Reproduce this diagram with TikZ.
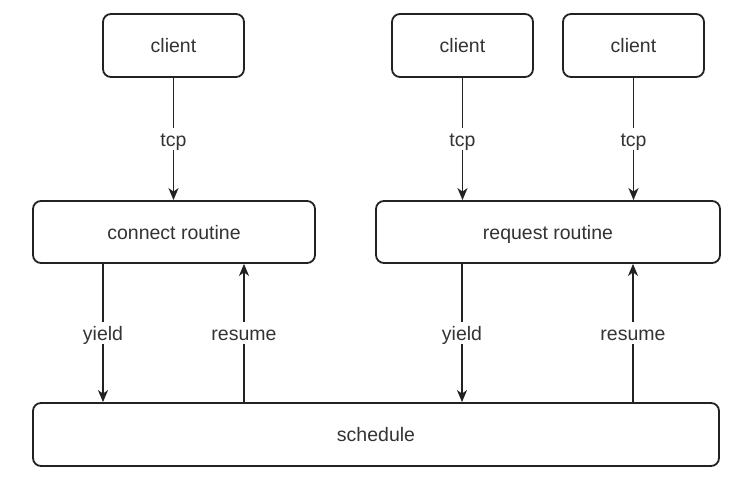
\documentclass[tikz,border=0pt]{standalone}
\usepackage{fontspec}
\setmainfont{Liberation Sans}
\usetikzlibrary{arrows.meta}
\definecolor{linec}{HTML}{222222}
\definecolor{textc}{HTML}{333333}
\tikzset{
  box/.style={draw=linec, line width=1.8pt, rounded corners=8pt, fill=white,
    text=textc, inner sep=0pt, text height=16pt, text depth=2pt,
    font=\fontsize{19.5}{23}\selectfont},
  conn/.style={draw=linec, line width=1.6pt, -{Stealth[length=12pt,width=10pt,inset=3.5pt]}},
  lbl/.style={fill=white, text=textc, inner sep=2pt, text height=16pt, text depth=2pt,
    font=\fontsize{19.5}{23}\selectfont}
}
\begin{document}
\begin{tikzpicture}[x=1pt,y=-1pt]
\useasboundingbox (0,0) rectangle (744,480);
\node[box, minimum width=141pt, minimum height=63pt] (c1) at (173.5,45.5) {client};
\node[box, minimum width=141pt, minimum height=63pt] (c2) at (462.5,45.5) {client};
\node[box, minimum width=141pt, minimum height=63pt] (c3) at (633.5,45.5) {client};
\node[box, minimum width=282pt, minimum height=62pt] (conn) at (174,232) {connect routine};
\node[box, minimum width=344pt, minimum height=62pt] (req) at (548,232) {request routine};
\node[box, minimum width=686pt, minimum height=63pt] (sched) at (376,434.5) {schedule};
\coordinate (yl) at (103,0);
\coordinate (rl) at (244,0);
\coordinate (yr) at (462,0);
\coordinate (rr) at (633,0);
\draw[conn] (c1.south) -- (c1.south |- conn.north) node[lbl, midway] {tcp};
\draw[conn] (c2.south) -- (c2.south |- req.north) node[lbl, midway] {tcp};
\draw[conn] (c3.south) -- (c3.south |- req.north) node[lbl, midway] {tcp};
\draw[conn] (yl |- conn.south) -- (yl |- sched.north) node[lbl, midway] {yield};
\draw[conn] (rl |- sched.north) -- (rl |- conn.south) node[lbl, midway] {resume};
\draw[conn] (yr |- req.south) -- (yr |- sched.north) node[lbl, midway] {yield};
\draw[conn] (rr |- sched.north) -- (rr |- req.south) node[lbl, midway] {resume};
\end{tikzpicture}
\end{document}
